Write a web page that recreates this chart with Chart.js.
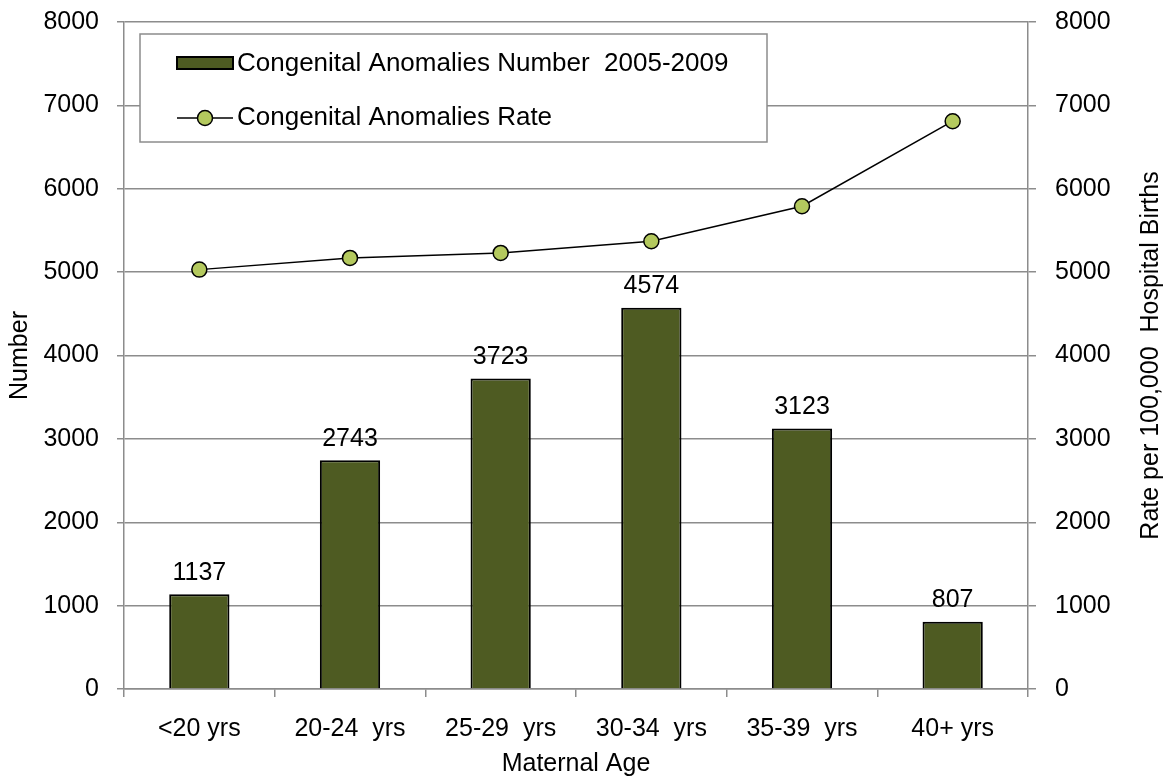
<!DOCTYPE html>
<html>
<head>
<meta charset="utf-8">
<script src="https://cdn.jsdelivr.net/npm/chart.js@4"></script>
<style>
  html, body { margin: 0; padding: 0; background: #fff; }
  #wrap { width: 1165px; height: 776px; }
</style>
</head>
<body>
<div id="wrap"><canvas id="anomalies"></canvas></div>
<script>
const ageGroups = ['<20 yrs', '20-24  yrs', '25-29  yrs', '30-34  yrs', '35-39  yrs', '40+ yrs'];
const anomalyCounts = [1137, 2743, 3723, 4574, 3123, 807];
const anomalyRates = [5030, 5170, 5230, 5370, 5790, 6810];
const axisTicks = [0, 1000, 2000, 3000, 4000, 5000, 6000, 7000, 8000];

const FONT = 'Liberation Sans, Arial, sans-serif';
const SIZE = 25;
const BAR_COLOR = '#4e5b22';
const DOT_COLOR = '#b4c95e';
const GRID = '#8c8c8c';
const RATE_TITLE = 'Rate per 100,000  Hospital Births';

// numbers over each bar
const barLabels = {
  id: 'barLabels',
  afterDatasetsDraw(chart) {
    const ctx = chart.ctx;
    const meta = chart.getDatasetMeta(0);
    ctx.save();
    ctx.font = SIZE + 'px ' + FONT;
    ctx.fillStyle = '#000';
    ctx.textAlign = 'center';
    ctx.textBaseline = 'bottom';
    meta.data.forEach((bar, i) => {
      ctx.fillText(String(anomalyCounts[i]), bar.x, bar.y - 9);
    });
    ctx.restore();
  }
};

// right axis title reads bottom-to-top
const rateTitle = {
  id: 'rateTitle',
  afterDraw(chart) {
    const ctx = chart.ctx;
    const area = chart.chartArea;
    ctx.save();
    ctx.translate(chart.width - 14, (area.top + area.bottom) / 2);
    ctx.rotate(-Math.PI / 2);
    ctx.font = SIZE + 'px ' + FONT;
    ctx.fillStyle = '#000';
    ctx.textAlign = 'center';
    ctx.textBaseline = 'middle';
    ctx.fillText(RATE_TITLE, 0, 0);
    ctx.restore();
  }
};

// boxed legend sitting inside the plot
const boxLegend = {
  id: 'boxLegend',
  afterDraw(chart) {
    const ctx = chart.ctx;
    const area = chart.chartArea;
    const x = area.left + 16, y = area.top + 12, w = 627, h = 108;
    ctx.save();
    ctx.fillStyle = '#fff';
    ctx.fillRect(x, y, w, h);
    ctx.strokeStyle = GRID;
    ctx.lineWidth = 1.5;
    ctx.strokeRect(x, y, w, h);

    ctx.font = '26px ' + FONT;
    ctx.textBaseline = 'middle';

    // bar swatch
    ctx.fillStyle = BAR_COLOR;
    ctx.fillRect(x + 37, y + 23, 56, 12);
    ctx.strokeStyle = '#000';
    ctx.lineWidth = 2;
    ctx.strokeRect(x + 37, y + 23, 56, 12);
    ctx.fillStyle = '#000';
    ctx.fillText(chart.data.datasets[0].label, x + 97, y + 30);

    // line swatch
    const ly = y + 84;
    ctx.beginPath();
    ctx.moveTo(x + 37, ly);
    ctx.lineTo(x + 93, ly);
    ctx.strokeStyle = '#000';
    ctx.lineWidth = 1.5;
    ctx.stroke();
    ctx.beginPath();
    ctx.arc(x + 65, ly, 7.5, 0, Math.PI * 2);
    ctx.fillStyle = DOT_COLOR;
    ctx.fill();
    ctx.stroke();
    ctx.fillStyle = '#000';
    ctx.fillText(chart.data.datasets[1].label, x + 97, ly);
    ctx.restore();
  }
};

const plainTick = v => String(v);

// fixed axis widths, no extra room reserved for the end labels
function fitY(width) {
  return scale => {
    scale.width = width;
    scale.paddingTop = 0;
    scale.paddingBottom = 0;
  };
}

new Chart(document.getElementById('anomalies'), {
  data: {
    labels: ageGroups,
    datasets: [{
      type: 'bar',
      label: 'Congenital Anomalies Number  2005-2009',
      data: anomalyCounts,
      backgroundColor: BAR_COLOR,
      borderColor: '#000',
      borderWidth: 2,
      categoryPercentage: 1,
      barPercentage: 0.4,
      yAxisID: 'y',
      order: 1
    }, {
      type: 'line',
      label: 'Congenital Anomalies Rate',
      data: anomalyRates,
      borderColor: '#000',
      borderWidth: 1.5,
      pointRadius: 7.5,
      pointBackgroundColor: DOT_COLOR,
      pointBorderColor: '#000',
      pointBorderWidth: 1.5,
      tension: 0,
      yAxisID: 'y1',
      order: 0
    }]
  },
  options: {
    responsive: true,
    maintainAspectRatio: false,
    animation: false,
    layout: { padding: { top: 22, left: 0, right: 0, bottom: 0 } },
    plugins: {
      legend: { display: false },
      tooltip: { enabled: false }
    },
    scales: {
      x: {
        offset: true,
        grid: { offset: true, drawOnChartArea: false, color: GRID, tickLength: 8, lineWidth: 1.5 },
        border: { color: GRID, width: 1.5 },
        ticks: { color: '#000', font: { family: FONT, size: SIZE }, padding: 17, maxRotation: 0 },
        title: { display: true, text: 'Maternal Age', color: '#000', font: { family: FONT, size: SIZE, lineHeight: 0.92 }, padding: 0 },
        afterFit(scale) {
          scale.height = 87;
          scale.paddingLeft = 0;
          scale.paddingRight = 0;
        }
      },
      y: {
        position: 'left',
        min: 0,
        max: 8000,
        afterBuildTicks(scale) { scale.ticks = axisTicks.map(v => ({ value: v })); },
        grid: { color: GRID, tickLength: 7, lineWidth: 1.5 },
        border: { color: GRID, width: 1.5 },
        ticks: { color: '#000', font: { family: FONT, size: SIZE }, padding: 18, callback: plainTick },
        title: { display: true, text: 'Number', color: '#000', font: { family: FONT, size: SIZE, lineHeight: 1 }, padding: { top: 8, bottom: 0 } },
        afterFit: fitY(124)
      },
      y1: {
        position: 'right',
        min: 0,
        max: 8000,
        afterBuildTicks(scale) { scale.ticks = axisTicks.map(v => ({ value: v })); },
        grid: { drawOnChartArea: false, color: GRID, tickLength: 8, lineWidth: 1.5 },
        border: { color: GRID, width: 1.5 },
        ticks: { color: '#000', font: { family: FONT, size: SIZE }, padding: 19, callback: plainTick },
        afterFit: fitY(137)
      }
    }
  },
  plugins: [barLabels, boxLegend, rateTitle]
});
</script>
</body>
</html>
